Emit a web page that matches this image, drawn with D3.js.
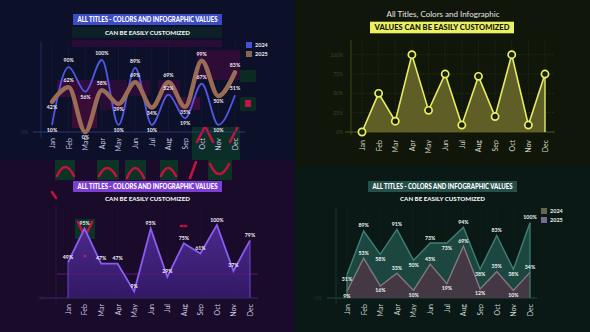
<!DOCTYPE html>
<html>
<head>
<meta charset="utf-8">
<script src="https://cdn.jsdelivr.net/npm/d3@7"></script>
<style>
  body { margin: 0; background: #000; }
  svg { display: block; }
  text { font-family: Lato, "Open Sans", sans-serif; }
</style>
</head>
<body>
<div class="canvas"></div>
<script>
// months shared by every panel
const months = ['Jan', 'Feb', 'Mar', 'Apr', 'May', 'Jun', 'Jul', 'Aug', 'Sep', 'Oct', 'Nov', 'Dec']

// top left - two smooth lines
const wave2024 = [10, 90, 56, 100, 10, 89, 10, 52, 19, 67, 10, 51]
const wave2025 = [42, 62, 0, 58, 39, 69, 34, 69, 35, 99, 50, 83]

// top right - peaks with markers
const peaks = [0, 50, 14, 100, 28, 75, 9, 72, 20, 100, 9, 75]
const peakTicks = [0, 25, 50, 75, 100]

// bottom left - single area
const purple = [49, 95, 47, 47, 9, 95, 29, 75, 61, 100, 37, 79]

// bottom right - two areas
const area2024 = [31, 89, 58, 91, 50, 73, 73, 94, 38, 83, 38, 100]
const area2025 = [9, 53, 16, 33, 10, 45, 19, 69, 12, 35, 10, 34]

const legendYears = ['2024', '2025']

const svg = d3.select('.canvas').append('svg')
    .attr('width', 590)
    .attr('height', 332)

// panel backgrounds
svg.append('rect').attr('x', 0).attr('y', 0).attr('width', 295).attr('height', 160).attr('fill', '#0c1129')
svg.append('rect').attr('x', 0).attr('y', 160).attr('width', 295).attr('height', 172).attr('fill', '#190b29')
svg.append('rect').attr('x', 295).attr('y', 0).attr('width', 295).attr('height', 166).attr('fill', '#11160a')
svg.append('rect').attr('x', 295).attr('y', 166).attr('width', 295).attr('height', 166).attr('fill', '#0a1816')

const fmt = d => d + '%'

// helper: rotated month axis
function monthAxis(x, yPos, gap, color) {
    const g = svg.append('g')
        .attr('transform', `translate(0, ${yPos})`)
        .call(d3.axisBottom(x).tickSize(0))
    g.select('.domain').remove()
    g.selectAll('text')
        .attr('transform', 'rotate(-90)')
        .attr('text-anchor', 'end')
        .attr('x', -gap)
        .attr('y', 0)
        .attr('dy', '0.35em')
        .attr('fill', color)
        .style('font-size', '7px')
        .style('font-family', 'Lato, sans-serif')
    return g
}

// helper: peak above / trough below
function isPeak(arr, i) {
    const l = i > 0 ? arr[i - 1] : -Infinity
    const r = i < arr.length - 1 ? arr[i + 1] : -Infinity
    return arr[i] >= l && arr[i] >= r
}

// helper: title box
function titleBox(cx, y, w, h, fill, label, textFill, textW) {
    svg.append('rect')
        .attr('x', cx - w / 2).attr('y', y)
        .attr('width', w).attr('height', h)
        .attr('fill', fill)
    svg.append('text')
        .attr('x', cx).attr('y', y + h / 2)
        .attr('dy', '0.36em')
        .attr('text-anchor', 'middle')
        .attr('textLength', textW)
        .attr('lengthAdjust', 'spacingAndGlyphs')
        .attr('fill', textFill)
        .style('font-size', '6.6px')
        .style('font-weight', 900)
        .text(label)
}

function subTitle(cx, y, label, fill) {
    svg.append('text')
        .attr('x', cx).attr('y', y)
        .attr('text-anchor', 'middle')
        .attr('textLength', 85)
        .attr('lengthAdjust', 'spacingAndGlyphs')
        .attr('fill', fill)
        .style('font-size', '6.4px')
        .style('font-weight', 900)
        .text(label)
}

// ---------- glitch tints (decoration) ----------
const tint = svg.append('g')
tint.append('rect').attr('x', 72).attr('y', 27).attr('width', 150).attr('height', 11).attr('fill', '#0d2028')
tint.append('rect').attr('x', 72).attr('y', 40).attr('width', 150).attr('height', 7).attr('fill', '#2a0c36')
tint.append('rect').attr('x', 57).attr('y', 80).attr('width', 43).attr('height', 17).attr('fill', '#330c3a')
tint.append('rect').attr('x', 72).attr('y', 97).attr('width', 25).attr('height', 31).attr('fill', '#3c0c36')
tint.append('rect').attr('x', 100).attr('y', 80).attr('width', 27).attr('height', 30).attr('fill', '#2a0c36')
tint.append('rect').attr('x', 130).attr('y', 80).attr('width', 20).attr('height', 16).attr('fill', '#2a0c36')
tint.append('rect').attr('x', 158).attr('y', 80).attr('width', 22).attr('height', 17).attr('fill', '#2a0c36')
tint.append('rect').attr('x', 177).attr('y', 97).attr('width', 23).attr('height', 13).attr('fill', '#3c0c3a')
tint.append('rect').attr('x', 197).attr('y', 50).attr('width', 43).attr('height', 30).attr('fill', '#2e0c36')
tint.append('rect').attr('x', 240).attr('y', 70).attr('width', 16).attr('height', 12).attr('fill', '#0a2a22')
tint.append('rect').attr('x', 240).attr('y', 97).attr('width', 16).attr('height', 14).attr('fill', '#0a2a22')
tint.append('rect').attr('x', 245).attr('y', 100).attr('width', 6).attr('height', 7).attr('fill', '#c2124a')
tint.append('rect').attr('x', 192).attr('y', 127).attr('width', 48).attr('height', 33).attr('fill', '#0b2f26')
tint.append('rect').attr('x', 75).attr('y', 219).attr('width', 20).attr('height', 20).attr('fill', '#0b3326')
// bottom band green blocks
const blocks = [[55, 20], [97, 22], [125, 21], [160, 18], [208, 24]]
blocks.forEach(b => {
    tint.append('rect').attr('x', b[0]).attr('y', 160).attr('width', b[1]).attr('height', 20).attr('fill', '#0b3326')
})
const redStroke = '#c4123e'
const redPaths = [
    'M57,176 Q65,158 74,176',
    'M99,176 Q107,160 116,176',
    'M127,178 Q135,158 144,178',
    'M161,176 Q168,160 176,176',
    'M190,178 L196,162',
    'M210,164 Q219,184 229,164',
    'M197,142 L204,128',
    'M206,128 L213,142',
    'M230,142 L237,128',
    'M52,192 L56,198',
    'M78,222 L85,237 L92,222',
    'M181,226 L186,226'
]
redPaths.forEach(p => {
    tint.append('path').attr('d', p).attr('fill', 'none')
        .attr('stroke', redStroke).attr('stroke-width', 2.6).attr('stroke-linecap', 'round')
})

// ================= PANEL 1 (top left) =================
const x1 = d3.scalePoint().domain(months).range([52, 235])
const y1 = d3.scaleLinear().domain([0, 100]).range([132, 60])

titleBox(147.5, 14, 149, 11, '#3b4cc4', 'ALL TITLES - COLORS AND INFOGRAPHIC VALUES', '#ffffff', 140)
subTitle(147.5, 34.5, 'CAN BE EASILY CUSTOMIZED', '#e8f0f4')

// faint vertical grid
svg.append('g').selectAll('line').data(months).join('line')
    .attr('x1', d => x1(d)).attr('x2', d => x1(d))
    .attr('y1', 42).attr('y2', 132)
    .attr('stroke', '#161d40').attr('stroke-width', 0.6)

svg.append('line').attr('x1', 41).attr('x2', 41).attr('y1', 42).attr('y2', 138)
    .attr('stroke', '#27307a').attr('stroke-width', 0.8)
svg.append('line').attr('x1', 33).attr('x2', 245).attr('y1', y1(0)).attr('y2', y1(0))
    .attr('stroke', '#2b3a8a').attr('stroke-width', 0.9)
svg.append('text').attr('x', 28).attr('y', y1(0)).attr('dy', '0.35em')
    .attr('text-anchor', 'end').attr('fill', '#2a3260').style('font-size', '5px').text('0%')

monthAxis(x1, 132, 6, '#c4c8e6')

const line1 = d3.line()
    .x((d, i) => x1(months[i]))
    .y(d => y1(d))
    .curve(d3.curveMonotoneX)

svg.append('path').datum(wave2024)
    .attr('d', line1).attr('fill', 'none')
    .attr('stroke', '#5157e6').attr('stroke-width', 1.8)
svg.append('path').datum(wave2025)
    .attr('d', line1).attr('fill', 'none')
    .attr('stroke', '#9a6b57').attr('stroke-width', 4.5)
    .attr('stroke-linecap', 'round')

function waveLabels(arr) {
    svg.append('g').selectAll('text').data(arr).join('text')
        .attr('x', (d, i) => x1(months[i]))
        .attr('y', (d, i) => y1(d) + (isPeak(arr, i) ? -5 : 7))
        .attr('text-anchor', 'middle')
        .attr('fill', '#f4e8f2')
        .style('font-size', '5.2px')
        .style('font-weight', 700)
        .text(fmt)
}
waveLabels(wave2024)
waveLabels(wave2025)

// legend
const legend1Colors = ['#4a50d4', '#8a6552']
legendYears.forEach((yr, i) => {
    svg.append('rect').attr('x', 246).attr('y', 42 + i * 9).attr('width', 6).attr('height', 6)
        .attr('fill', legend1Colors[i])
    svg.append('text').attr('x', 255).attr('y', 45 + i * 9).attr('dy', '0.35em')
        .attr('fill', '#e6e6f0').style('font-size', '5.5px').style('font-weight', 700).text(yr)
})

// ================= PANEL 2 (top right) =================
const x2 = d3.scalePoint().domain(months).range([362, 545])
const y2 = d3.scaleLinear().domain([0, 100]).range([132, 54.7])

svg.append('text').attr('x', 443).attr('y', 17)
    .attr('text-anchor', 'middle')
    .attr('textLength', 113).attr('lengthAdjust', 'spacingAndGlyphs')
    .attr('fill', '#e4e4e4').style('font-size', '7.6px')
    .text('All Titles, Colors and Infographic')
titleBox(442, 21.7, 144, 11.6, '#e9f163', 'VALUES CAN BE EASILY CUSTOMIZED', '#17170a', 135)

// dashed grid
svg.append('g').selectAll('line').data(peakTicks).join('line')
    .attr('x1', 351).attr('x2', 555)
    .attr('y1', d => y2(d)).attr('y2', d => y2(d))
    .attr('stroke', '#2c3a14').attr('stroke-width', 0.7)
    .attr('stroke-dasharray', '1.5,1.5')
svg.append('g').selectAll('line').data(months).join('line')
    .attr('x1', d => x2(d)).attr('x2', d => x2(d))
    .attr('y1', 40).attr('y2', 132)
    .attr('stroke', '#26330f').attr('stroke-width', 0.7)
    .attr('stroke-dasharray', '1.5,1.5')

const yAxis2 = svg.append('g')
    .attr('transform', 'translate(346, 0)')
    .call(d3.axisLeft(y2).tickValues(peakTicks).tickSize(0).tickFormat(fmt))
yAxis2.select('.domain').remove()
yAxis2.selectAll('text').attr('fill', '#3a4a1e').style('font-size', '5px')

svg.append('line').attr('x1', 351).attr('x2', 351).attr('y1', 40).attr('y2', 135)
    .attr('stroke', '#3c4e16').attr('stroke-width', 0.9)
svg.append('line').attr('x1', 345).attr('x2', 555).attr('y1', y2(0)).attr('y2', y2(0))
    .attr('stroke', '#4a5e1a').attr('stroke-width', 0.9)

const area2 = d3.area()
    .x((d, i) => x2(months[i]))
    .y0(y2(0))
    .y1(d => y2(d))
svg.append('path').datum(peaks)
    .attr('d', area2).attr('fill', '#66652a').attr('fill-opacity', 0.92)
const line2 = d3.line()
    .x((d, i) => x2(months[i]))
    .y(d => y2(d))
svg.append('path').datum(peaks)
    .attr('d', line2).attr('fill', 'none')
    .attr('stroke', '#e4ec62').attr('stroke-width', 1.6)
svg.append('line').attr('x1', x2('Dec')).attr('x2', x2('Dec'))
    .attr('y1', y2(peaks[11])).attr('y2', y2(0))
    .attr('stroke', '#e4ec62').attr('stroke-width', 1.4)
svg.append('g').selectAll('circle').data(peaks).join('circle')
    .attr('cx', (d, i) => x2(months[i]))
    .attr('cy', d => y2(d))
    .attr('r', 3.6)
    .attr('fill', '#1a1f0a')
    .attr('stroke', '#e9f163').attr('stroke-width', 1.7)

monthAxis(x2, 132, 8, '#d6d8c4')

// ================= PANEL 3 (bottom left) =================
const x3 = d3.scalePoint().domain(months).range([68, 250])
const y3 = d3.scaleLinear().domain([0, 100]).range([298, 225])

svg.append('g').selectAll('line').data(months).join('line')
    .attr('x1', d => x3(d)).attr('x2', d => x3(d))
    .attr('y1', 205).attr('y2', 298)
    .attr('stroke', '#211036').attr('stroke-width', 0.6)

titleBox(147.5, 181, 149, 11, '#7b3fd4', 'ALL TITLES - COLORS AND INFOGRAPHIC VALUES', '#ffffff', 140)
subTitle(147.5, 200.5, 'CAN BE EASILY CUSTOMIZED', '#eef2f4')

svg.append('line').attr('x1', 56).attr('x2', 56).attr('y1', 205).attr('y2', 305)
    .attr('stroke', '#2c1a4a').attr('stroke-width', 0.8)
svg.append('line').attr('x1', 40).attr('x2', 258).attr('y1', y3(0)).attr('y2', y3(0))
    .attr('stroke', '#3b2a70').attr('stroke-width', 1)
svg.append('text').attr('x', 44).attr('y', y3(0)).attr('dy', '0.35em')
    .attr('text-anchor', 'end').attr('fill', '#2e1f4c').style('font-size', '5px').text('0%')

const grad = svg.append('defs').append('linearGradient')
    .attr('id', 'purpleFill').attr('x1', 0).attr('x2', 0).attr('y1', 0).attr('y2', 1)
grad.append('stop').attr('offset', '0%').attr('stop-color', '#4d2c92')
grad.append('stop').attr('offset', '100%').attr('stop-color', '#35196a')

const area3 = d3.area()
    .x((d, i) => x3(months[i]))
    .y0(y3(0))
    .y1(d => y3(d))
svg.append('path').datum(purple)
    .attr('d', area3).attr('fill', 'url(#purpleFill)').attr('fill-opacity', 0.93)
svg.append('line').attr('x1', 57).attr('x2', 258).attr('y1', 274).attr('y2', 274)
    .attr('stroke', '#5a1a78').attr('stroke-width', 1.4).attr('stroke-opacity', 0.7)
svg.append('circle').attr('cx', 85).attr('cy', 256).attr('r', 1.5).attr('fill', '#b0207a')
svg.append('path').datum(purple)
    .attr('d', d3.line().x((d, i) => x3(months[i])).y(d => y3(d)))
    .attr('fill', 'none').attr('stroke', '#8b5cf2').attr('stroke-width', 1.8)
svg.append('line').attr('x1', x3('Jan')).attr('x2', x3('Jan')).attr('y1', y3(purple[0])).attr('y2', y3(0))
    .attr('stroke', '#6c46cc').attr('stroke-width', 1)
svg.append('line').attr('x1', x3('Dec')).attr('x2', x3('Dec')).attr('y1', y3(purple[11])).attr('y2', y3(0))
    .attr('stroke', '#6c46cc').attr('stroke-width', 1)

svg.append('g').selectAll('text').data(purple).join('text')
    .attr('x', (d, i) => x3(months[i]))
    .attr('y', d => y3(d) - 3.5)
    .attr('text-anchor', 'middle')
    .attr('fill', '#f2eefa')
    .style('font-size', '5.2px')
    .style('font-weight', 700)
    .text(fmt)

monthAxis(x3, 298, 6, '#cfc6e2')

// ================= PANEL 4 (bottom right) =================
const x4 = d3.scalePoint().domain(months).range([347, 530])
const y4 = d3.scaleLinear().domain([0, 100]).range([298, 222.7])

svg.append('g').selectAll('line').data(months).join('line')
    .attr('x1', d => x4(d)).attr('x2', d => x4(d))
    .attr('y1', 208).attr('y2', 298)
    .attr('stroke', '#10241f').attr('stroke-width', 0.6)

titleBox(442.5, 181, 149, 11, '#25504a', 'ALL TITLES - COLORS AND INFOGRAPHIC VALUES', '#ffffff', 140)
subTitle(442.5, 200.5, 'CAN BE EASILY CUSTOMIZED', '#eef2f2')

svg.append('line').attr('x1', 336).attr('x2', 336).attr('y1', 208).attr('y2', 305)
    .attr('stroke', '#1e3a34').attr('stroke-width', 0.8)
svg.append('line').attr('x1', 327).attr('x2', 537).attr('y1', y4(0)).attr('y2', y4(0))
    .attr('stroke', '#24443c').attr('stroke-width', 1)
svg.append('text').attr('x', 322).attr('y', y4(0)).attr('dy', '0.35em')
    .attr('text-anchor', 'end').attr('fill', '#1f3a34').style('font-size', '5px').text('0%')

const area4 = d3.area()
    .x((d, i) => x4(months[i]))
    .y0(y4(0))
    .y1(d => y4(d))
const line4 = d3.line()
    .x((d, i) => x4(months[i]))
    .y(d => y4(d))

svg.append('path').datum(area2024)
    .attr('d', area4).attr('fill', '#1d4a43').attr('fill-opacity', 0.95)
svg.append('path').datum(area2024)
    .attr('d', line4).attr('fill', 'none').attr('stroke', '#3f8074').attr('stroke-width', 1.4)
svg.append('path').datum(area2025)
    .attr('d', area4).attr('fill', '#463845').attr('fill-opacity', 0.95)
svg.append('path').datum(area2025)
    .attr('d', line4).attr('fill', 'none').attr('stroke', '#857680').attr('stroke-width', 1.4)
svg.append('line').attr('x1', x4('Jan')).attr('x2', x4('Jan')).attr('y1', y4(area2024[0])).attr('y2', y4(0))
    .attr('stroke', '#3f8074').attr('stroke-width', 1.2)
svg.append('line').attr('x1', x4('Dec')).attr('x2', x4('Dec')).attr('y1', y4(area2024[11])).attr('y2', y4(0))
    .attr('stroke', '#3f8074').attr('stroke-width', 1.2)

function areaLabels(arr) {
    svg.append('g').selectAll('text').data(arr).join('text')
        .attr('x', (d, i) => x4(months[i]))
        .attr('y', (d, i) => y4(d) + (isPeak(arr, i) ? -3.5 : 6.5))
        .attr('text-anchor', 'middle')
        .attr('fill', '#eef4f2')
        .style('font-size', '5.2px')
        .style('font-weight', 700)
        .text(fmt)
}
areaLabels(area2024)
areaLabels(area2025)

const legend4Colors = ['#66654f', '#7a6a8c']
legendYears.forEach((yr, i) => {
    svg.append('rect').attr('x', 541).attr('y', 208 + i * 9).attr('width', 6).attr('height', 6)
        .attr('fill', legend4Colors[i])
    svg.append('text').attr('x', 550).attr('y', 211 + i * 9).attr('dy', '0.35em')
        .attr('fill', '#e4ecea').style('font-size', '5.5px').style('font-weight', 700).text(yr)
})

monthAxis(x4, 298, 6, '#c6d6d2')
</script>
</body>
</html>
